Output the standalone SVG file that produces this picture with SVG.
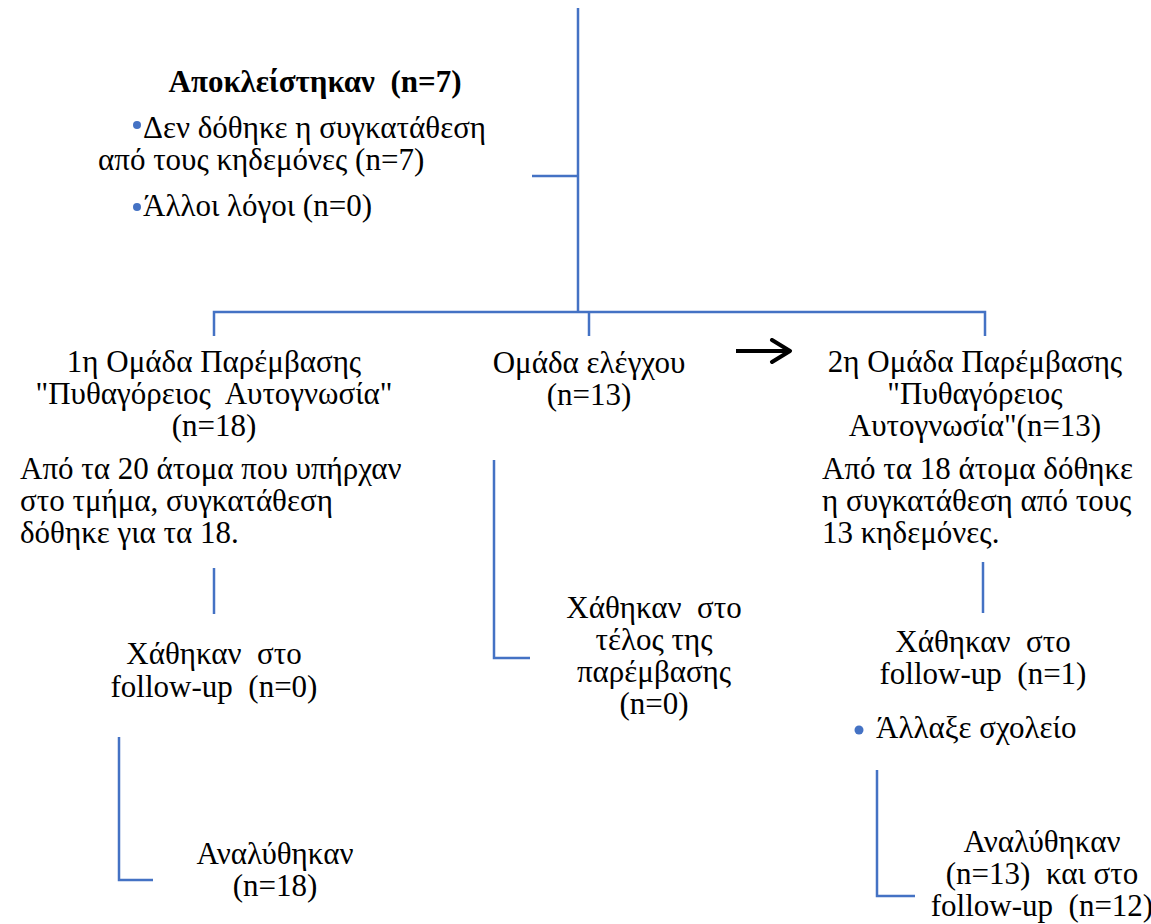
<svg xmlns="http://www.w3.org/2000/svg" width="1151" height="924" viewBox="0 0 1151 924">
<defs>
<marker id="ah" viewBox="0 0 24 26" refX="21" refY="13" markerWidth="24" markerHeight="26" markerUnits="userSpaceOnUse" orient="auto">
<path d="M3,2 L21,13 L3,24" fill="none" stroke="#000" stroke-width="4" stroke-linecap="round" stroke-linejoin="round"/>
</marker>
</defs>
<rect width="1151" height="924" fill="#fff"/>
<g id="connectors" stroke="#4472C4" stroke-width="2.5" fill="none">
<path d="M578,8 V312"/>
<path d="M532,176 H578"/>
<path d="M214,336 V312 H985 V336"/>
<path d="M589,312 V336"/>
<path d="M214,568 V614"/>
<path d="M119,737 V880 H153"/>
<path d="M494,460 V658 H530"/>
<path d="M983,562 V613"/>
<path d="M877,770 V896 H915"/>
<path d="M736,351 H790" stroke="#000" stroke-width="4" marker-end="url(#ah)"/>
</g>
<g id="excluded">
<text style="font-family:serif" font-size="31" font-weight="bold" text-anchor="middle" x="315" y="92">Αποκλείστηκαν&#160; (n=7)</text>
<circle fill="#4472C4" cx="137" cy="125" r="4"/>
<text style="font-family:serif" font-size="31" x="143" y="138">Δεν δόθηκε η συγκατάθεση</text>
<text style="font-family:serif" font-size="31" x="98" y="170">από τους κηδεμόνες (n=7)</text>
<circle fill="#4472C4" cx="137" cy="207" r="4"/>
<text style="font-family:serif" font-size="31" x="143" y="216">Άλλοι λόγοι (n=0)</text>
</g>
<g id="group1">
<text style="font-family:serif" font-size="31" text-anchor="middle" x="214" y="372">1η Ομάδα Παρέμβασης</text>
<text style="font-family:serif" font-size="31" text-anchor="middle" x="214" y="404">"Πυθαγόρειος&#160; Αυτογνωσία"</text>
<text style="font-family:serif" font-size="31" text-anchor="middle" x="214" y="436">(n=18)</text>
<text style="font-family:serif" font-size="31" x="20" y="479">Από τα 20 άτομα που υπήρχαν</text>
<text style="font-family:serif" font-size="31" x="20" y="511">στο τμήμα, συγκατάθεση</text>
<text style="font-family:serif" font-size="31" x="20" y="543">δόθηκε για τα 18.</text>
</g>
<g id="lost1">
<text style="font-family:serif" font-size="31" text-anchor="middle" x="214" y="664">Χάθηκαν&#160; στο</text>
<text style="font-family:serif" font-size="31" text-anchor="middle" x="214" y="697">follow-up&#160; (n=0)</text>
</g>
<g id="analysed1">
<text style="font-family:serif" font-size="31" text-anchor="middle" x="275" y="864">Αναλύθηκαν</text>
<text style="font-family:serif" font-size="31" text-anchor="middle" x="275" y="896">(n=18)</text>
</g>
<g id="control">
<text style="font-family:serif" font-size="31" text-anchor="middle" x="589" y="373">Ομάδα ελέγχου</text>
<text style="font-family:serif" font-size="31" text-anchor="middle" x="589" y="405">(n=13)</text>
</g>
<g id="lostControl">
<text style="font-family:serif" font-size="31" text-anchor="middle" x="654" y="618">Χάθηκαν&#160; στο</text>
<text style="font-family:serif" font-size="31" text-anchor="middle" x="654" y="650">τέλος της</text>
<text style="font-family:serif" font-size="31" text-anchor="middle" x="654" y="682">παρέμβασης</text>
<text style="font-family:serif" font-size="31" text-anchor="middle" x="654" y="714">(n=0)</text>
</g>
<g id="group2">
<text style="font-family:serif" font-size="31" text-anchor="middle" x="975" y="372">2η Ομάδα Παρέμβασης</text>
<text style="font-family:serif" font-size="31" text-anchor="middle" x="975" y="404">"Πυθαγόρειος</text>
<text style="font-family:serif" font-size="31" text-anchor="middle" x="975" y="436">Αυτογνωσία"(n=13)</text>
<text style="font-family:serif" font-size="31" x="822" y="479">Από τα 18 άτομα δόθηκε</text>
<text style="font-family:serif" font-size="31" x="822" y="511">η συγκατάθεση από τους</text>
<text style="font-family:serif" font-size="31" x="822" y="543">13 κηδεμόνες.</text>
</g>
<g id="lost2">
<text style="font-family:serif" font-size="31" text-anchor="middle" x="983" y="652">Χάθηκαν&#160; στο</text>
<text style="font-family:serif" font-size="31" text-anchor="middle" x="983" y="684">follow-up&#160; (n=1)</text>
<circle fill="#4472C4" cx="859" cy="730" r="4.5"/>
<text style="font-family:serif" font-size="31" x="876" y="738">Άλλαξε σχολείο</text>
</g>
<g id="analysed2">
<text style="font-family:serif" font-size="31" text-anchor="middle" x="1042" y="852">Αναλύθηκαν</text>
<text style="font-family:serif" font-size="31" text-anchor="middle" x="1042" y="884">(n=13)&#160; και στο</text>
<text style="font-family:serif" font-size="31" text-anchor="middle" x="1042" y="916">follow-up&#160; (n=12)</text>
</g>
</svg>
